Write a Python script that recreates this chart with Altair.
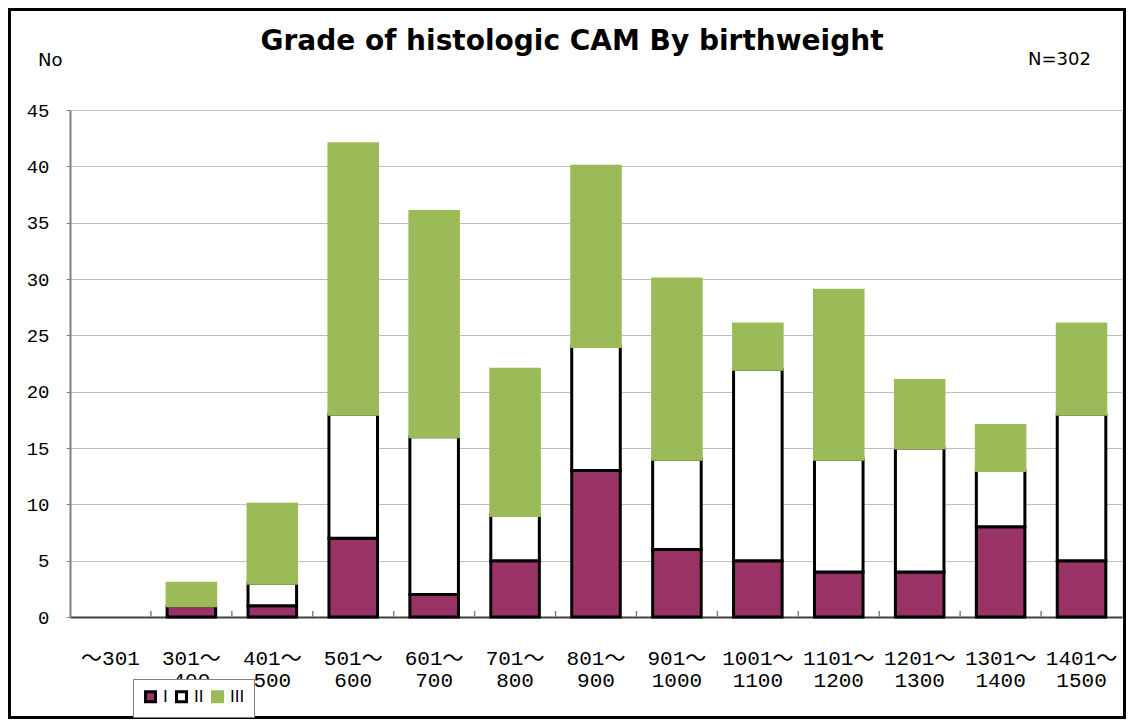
import altair as alt
import pandas as pd

categories = ["～301", "301～400", "401～500", "501～600", "601～700", "701～800",
              "801～900", "901～1000", "1001～1100", "1101～1200", "1201～1300",
              "1301～1400", "1401～1500"]
grade_I = [0, 1, 1, 7, 2, 5, 13, 6, 5, 4, 4, 8, 5]
grade_II = [0, 0, 2, 11, 14, 4, 11, 8, 17, 10, 11, 5, 13]
grade_III = [0, 2, 7, 24, 20, 13, 16, 16, 4, 15, 6, 4, 8]
grades = ["I", "II", "III"]

rows = []
for i, c in enumerate(categories):
    for k, (g, vals) in enumerate(zip(grades, [grade_I, grade_II, grade_III])):
        rows.append({"cat": c, "grade": g, "value": vals[i], "ord": k})
df = pd.DataFrame(rows)

W, H = 1052, 507
mono = "Liberation Mono, Noto Sans CJK JP"

xscale = alt.Scale(domain=categories, paddingInner=0.4, paddingOuter=0.2)
xenc = alt.X("cat:N", sort=categories, scale=xscale,
             axis=alt.Axis(title=None, labelAngle=0, labelPadding=30, ticks=False,
                           labelFont=mono, labelFontSize=21, labelColor="#000",
                           labelLineHeight=22, domainColor="#404040", domainWidth=2,
                           labelExpr="indexof(datum.label,'～')>0 ? [substring(datum.label,0,indexof(datum.label,'～')+1), substring(datum.label,indexof(datum.label,'～')+1)] : datum.label"))

leg = dict(title=None, orient="none", legendX=63, legendY=569,
           direction="horizontal", fillColor="#FFFFFF",
           strokeColor="#808080", padding=9, symbolType="square",
           symbolSize=100, symbolStrokeWidth=3, labelFont="Liberation Sans",
           labelFontSize=17, labelColor="#000", columnPadding=2,
           labelOffset=4)

bars = alt.Chart(df).transform_filter("datum.value > 0").mark_bar(strokeWidth=3).encode(
    x=xenc,
    y=alt.Y("value:Q", stack="zero",
            scale=alt.Scale(domain=[0, 45], nice=False),
            axis=alt.Axis(title=None, values=list(range(0, 46, 5)), labelFont=mono,
                          labelFontSize=19, labelColor="#000", tickSize=4,
                          tickColor="#808080", labelPadding=17, domainColor="#808080",
                          domainWidth=2, gridColor="#BFBFBF", gridWidth=1)),
    fill=alt.Fill("grade:N", scale=alt.Scale(domain=grades, range=["#993366", "#FFFFFF", "#9BBB59"]),
                  legend=alt.Legend(**leg)),
    stroke=alt.Stroke("grade:N", scale=alt.Scale(domain=grades, range=["#000000", "#000000", "#9BBB59"]),
                      legend=alt.Legend(**leg)),
    order=alt.Order("ord:Q"),
)

tick_df = pd.DataFrame({"cat": categories[1:]})
ticks = alt.Chart(tick_df).mark_rule(color="#808080", strokeWidth=1.5, xOffset=-W / 13 / 2).encode(
    x=alt.X("cat:N", sort=categories, scale=xscale),
    y=alt.value(H - 6), y2=alt.value(H),
)

title_df = pd.DataFrame({"t": ["Grade of histologic CAM By birthweight"]})
title = alt.Chart(title_df).mark_text(font="DejaVu Sans", fontSize=28, fontWeight="bold",
                                      align="center", baseline="middle", color="#000").encode(
    text="t:N", x=alt.value(502), y=alt.value(-68))

no_df = pd.DataFrame({"t": ["No"]})
no_text = alt.Chart(no_df).mark_text(font="DejaVu Sans", fontSize=18, align="left",
                                     baseline="middle", color="#000").encode(
    text="t:N", x=alt.value(-32), y=alt.value(-49))

n_df = pd.DataFrame({"t": ["N=302"]})
n_text = alt.Chart(n_df).mark_text(font="DejaVu Sans", fontSize=18, align="left",
                                   baseline="middle", color="#000").encode(
    text="t:N", x=alt.value(958), y=alt.value(-50))

frame_df = pd.DataFrame({"a": [0]})
frame = alt.Chart(frame_df).mark_rect(fillOpacity=0, stroke="#000", strokeWidth=3, clip=False).encode(
    x=alt.value(-60.5), x2=alt.value(W + 4 - 1.5), y=alt.value(-100.5), y2=alt.value(H + 102 - 1.5))

chart = alt.layer(bars, ticks, title, no_text, n_text, frame).properties(
    width=W, height=H,
    autosize=alt.AutoSizeParams(type="none"),
    padding={"left": 62, "top": 102, "right": 4, "bottom": 102},
).configure_view(stroke="#808080", strokeWidth=2).configure(
    background="#FFFFFF")

chart.save("out.html", embed_options={"renderer": "svg", "actions": False})
